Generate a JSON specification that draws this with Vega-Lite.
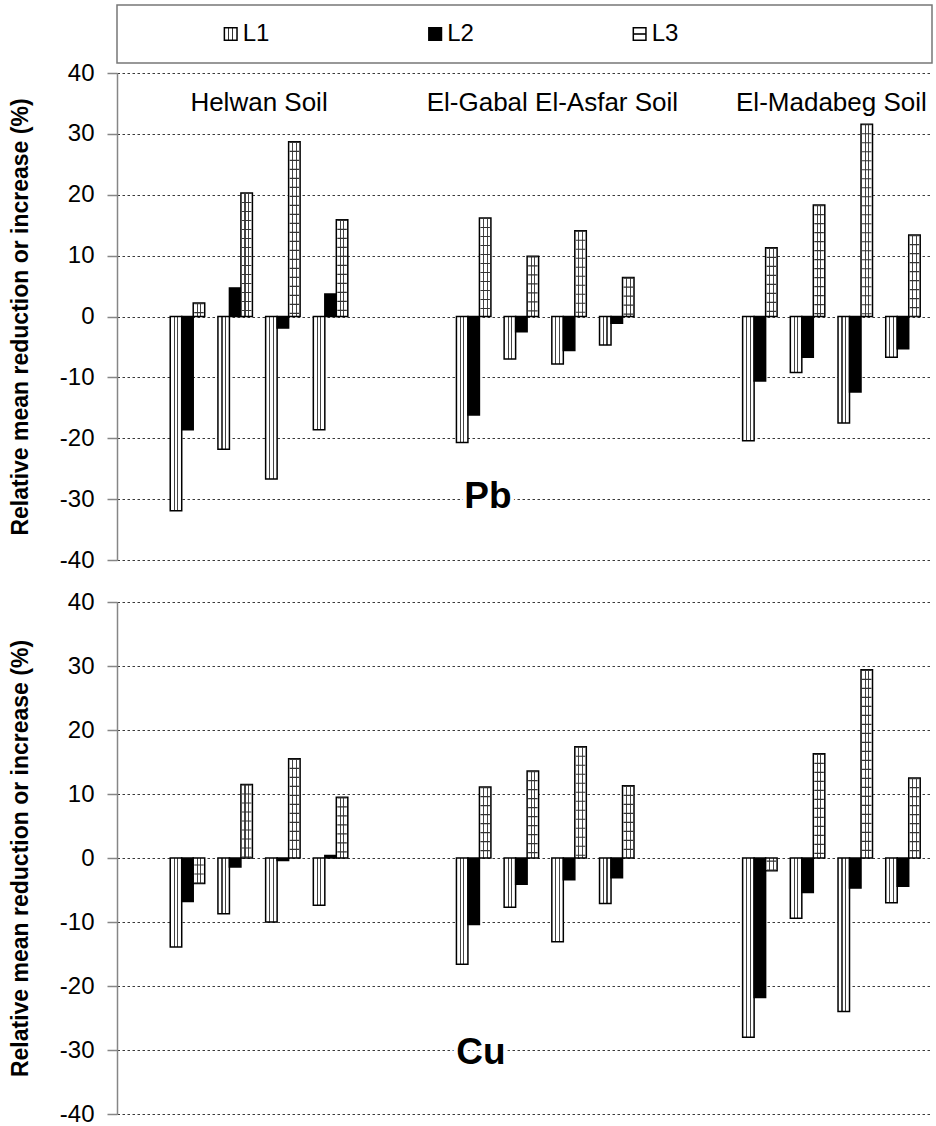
{
  "$schema": "https://vega.github.io/schema/vega-lite/v6.json",
  "padding": {"left": 9, "top": 4, "right": 0, "bottom": 4},
  "background": "white",
  "bounds": "flush",
  "spacing": 10,
  "resolve": {"scale": {"x": "independent", "y": "independent"}},
  "config": {
    "font": "Liberation Sans",
    "view": {"stroke": null},
    "axisY": {
      "gridColor": "#222", "gridDash": [2.5, 2.5], "gridWidth": 0.9, "gridOpacity": 1,
      "domainColor": "#868686", "domainWidth": 1.5,
      "tickColor": "#868686", "tickSize": 10, "tickWidth": 1.5,
      "labelFontSize": 24, "labelColor": "black", "labelPadding": 13, "labelFont": "Liberation Sans",
      "labelExpr": "toString(datum.value)",
      "titleFontSize": 23, "titleFontWeight": "bold", "titleColor": "black", "titlePadding": 27, "titleFont": "Liberation Sans"
    }
  },
  "datasets": {
    "bars": [
      {"panel": "Pb", "slot": "H1", "series": "L1", "value": -31.9},
      {"panel": "Pb", "slot": "H1", "series": "L2", "value": -18.6},
      {"panel": "Pb", "slot": "H1", "series": "L3", "value": 2.2},
      {"panel": "Pb", "slot": "H2", "series": "L1", "value": -21.8},
      {"panel": "Pb", "slot": "H2", "series": "L2", "value": 4.7},
      {"panel": "Pb", "slot": "H2", "series": "L3", "value": 20.3},
      {"panel": "Pb", "slot": "H3", "series": "L1", "value": -26.7},
      {"panel": "Pb", "slot": "H3", "series": "L2", "value": -1.9},
      {"panel": "Pb", "slot": "H3", "series": "L3", "value": 28.7},
      {"panel": "Pb", "slot": "H4", "series": "L1", "value": -18.6},
      {"panel": "Pb", "slot": "H4", "series": "L2", "value": 3.7},
      {"panel": "Pb", "slot": "H4", "series": "L3", "value": 15.9},
      {"panel": "Pb", "slot": "G1", "series": "L1", "value": -20.7},
      {"panel": "Pb", "slot": "G1", "series": "L2", "value": -16.2},
      {"panel": "Pb", "slot": "G1", "series": "L3", "value": 16.2},
      {"panel": "Pb", "slot": "G2", "series": "L1", "value": -7.0},
      {"panel": "Pb", "slot": "G2", "series": "L2", "value": -2.5},
      {"panel": "Pb", "slot": "G2", "series": "L3", "value": 9.9},
      {"panel": "Pb", "slot": "G3", "series": "L1", "value": -7.8},
      {"panel": "Pb", "slot": "G3", "series": "L2", "value": -5.6},
      {"panel": "Pb", "slot": "G3", "series": "L3", "value": 14.1},
      {"panel": "Pb", "slot": "G4", "series": "L1", "value": -4.7},
      {"panel": "Pb", "slot": "G4", "series": "L2", "value": -1.1},
      {"panel": "Pb", "slot": "G4", "series": "L3", "value": 6.4},
      {"panel": "Pb", "slot": "M1", "series": "L1", "value": -20.4},
      {"panel": "Pb", "slot": "M1", "series": "L2", "value": -10.6},
      {"panel": "Pb", "slot": "M1", "series": "L3", "value": 11.3},
      {"panel": "Pb", "slot": "M2", "series": "L1", "value": -9.2},
      {"panel": "Pb", "slot": "M2", "series": "L2", "value": -6.7},
      {"panel": "Pb", "slot": "M2", "series": "L3", "value": 18.3},
      {"panel": "Pb", "slot": "M3", "series": "L1", "value": -17.5},
      {"panel": "Pb", "slot": "M3", "series": "L2", "value": -12.4},
      {"panel": "Pb", "slot": "M3", "series": "L3", "value": 31.6},
      {"panel": "Pb", "slot": "M4", "series": "L1", "value": -6.7},
      {"panel": "Pb", "slot": "M4", "series": "L2", "value": -5.3},
      {"panel": "Pb", "slot": "M4", "series": "L3", "value": 13.4},
      {"panel": "Cu", "slot": "H1", "series": "L1", "value": -13.9},
      {"panel": "Cu", "slot": "H1", "series": "L2", "value": -6.8},
      {"panel": "Cu", "slot": "H1", "series": "L3", "value": -4.0},
      {"panel": "Cu", "slot": "H2", "series": "L1", "value": -8.7},
      {"panel": "Cu", "slot": "H2", "series": "L2", "value": -1.4},
      {"panel": "Cu", "slot": "H2", "series": "L3", "value": 11.5},
      {"panel": "Cu", "slot": "H3", "series": "L1", "value": -10.0},
      {"panel": "Cu", "slot": "H3", "series": "L2", "value": -0.4},
      {"panel": "Cu", "slot": "H3", "series": "L3", "value": 15.5},
      {"panel": "Cu", "slot": "H4", "series": "L1", "value": -7.4},
      {"panel": "Cu", "slot": "H4", "series": "L2", "value": 0.4},
      {"panel": "Cu", "slot": "H4", "series": "L3", "value": 9.5},
      {"panel": "Cu", "slot": "G1", "series": "L1", "value": -16.6},
      {"panel": "Cu", "slot": "G1", "series": "L2", "value": -10.4},
      {"panel": "Cu", "slot": "G1", "series": "L3", "value": 11.1},
      {"panel": "Cu", "slot": "G2", "series": "L1", "value": -7.7},
      {"panel": "Cu", "slot": "G2", "series": "L2", "value": -4.1},
      {"panel": "Cu", "slot": "G2", "series": "L3", "value": 13.6},
      {"panel": "Cu", "slot": "G3", "series": "L1", "value": -13.1},
      {"panel": "Cu", "slot": "G3", "series": "L2", "value": -3.4},
      {"panel": "Cu", "slot": "G3", "series": "L3", "value": 17.4},
      {"panel": "Cu", "slot": "G4", "series": "L1", "value": -7.1},
      {"panel": "Cu", "slot": "G4", "series": "L2", "value": -3.1},
      {"panel": "Cu", "slot": "G4", "series": "L3", "value": 11.3},
      {"panel": "Cu", "slot": "M1", "series": "L1", "value": -28.0},
      {"panel": "Cu", "slot": "M1", "series": "L2", "value": -21.8},
      {"panel": "Cu", "slot": "M1", "series": "L3", "value": -2.0},
      {"panel": "Cu", "slot": "M2", "series": "L1", "value": -9.4},
      {"panel": "Cu", "slot": "M2", "series": "L2", "value": -5.4},
      {"panel": "Cu", "slot": "M2", "series": "L3", "value": 16.3},
      {"panel": "Cu", "slot": "M3", "series": "L1", "value": -24.0},
      {"panel": "Cu", "slot": "M3", "series": "L2", "value": -4.7},
      {"panel": "Cu", "slot": "M3", "series": "L3", "value": 29.4},
      {"panel": "Cu", "slot": "M4", "series": "L1", "value": -7.0},
      {"panel": "Cu", "slot": "M4", "series": "L2", "value": -4.4},
      {"panel": "Cu", "slot": "M4", "series": "L3", "value": 12.5}
    ]
  },
  "vconcat": [
    {
      "width": 815,
      "height": 58,
      "view": {"stroke": "#777777", "strokeWidth": 1.5},
      "data": {"values": [{"series": "L1"}, {"series": "L2"}, {"series": "L3"}]},
      "layer": [
        {
          "mark": {"type": "point", "shape": "square", "size": 160, "filled": true, "stroke": "black", "strokeWidth": 1.5, "opacity": 1},
          "encoding": {
            "x": {"field": "series", "type": "nominal", "scale": {"type": "point", "domain": ["L1", "L2", "L3"], "padding": 0.993, "align": 0.28}, "axis": null},
            "fill": {
              "condition": [
                {"test": "datum.series === 'L1'", "value": {"gradient": "linear", "x1": 0, "y1": 0, "x2": 1, "y2": 0, "stops": [{"offset": 0, "color": "white"}, {"offset": 0.3, "color": "white"}, {"offset": 0.3, "color": "#333"}, {"offset": 0.4, "color": "#333"}, {"offset": 0.4, "color": "white"}, {"offset": 0.6, "color": "white"}, {"offset": 0.6, "color": "#333"}, {"offset": 0.7, "color": "#333"}, {"offset": 0.7, "color": "white"}, {"offset": 1, "color": "white"}]}},
                {"test": "datum.series === 'L2'", "value": "black"}
              ],
              "value": {"gradient": "linear", "x1": 0, "y1": 0, "x2": 0, "y2": 1, "stops": [{"offset": 0, "color": "white"}, {"offset": 0.45, "color": "white"}, {"offset": 0.45, "color": "#333"}, {"offset": 0.55, "color": "#333"}, {"offset": 0.55, "color": "white"}, {"offset": 1, "color": "white"}]}
            }
          }
        },
        {
          "mark": {"type": "text", "align": "left", "baseline": "middle", "dx": 12, "fontSize": 24, "font": "Liberation Sans", "color": "black"},
          "encoding": {
            "x": {"field": "series", "type": "nominal", "scale": {"type": "point", "domain": ["L1", "L2", "L3"], "padding": 0.993, "align": 0.28}, "axis": null},
            "text": {"field": "series"}
          }
        }
      ]
    },
    {
      "bounds": "flush",
      "spacing": 42,
      "resolve": {"scale": {"x": "independent", "y": "independent"}},
      "vconcat": [
        {
          "width": 815,
          "height": 487,
          "layer": [
            {
              "data": {"name": "bars"},
              "transform": [{"filter": "datum.panel === 'Pb'"}],
              "mark": {"type": "bar", "stroke": "black", "strokeWidth": 1.5},
              "encoding": {
                "x": {"field": "slot", "type": "nominal", "scale": {"domain": ["H1","H2","H3","H4","s1","s2","G1","G2","G3","G4","s3","s4","M1","M2","M3","M4"], "paddingInner": 0, "paddingOuter": 0.543, "align": 0.9}, "axis": null},
                "xOffset": {"field": "series", "type": "nominal", "scale": {"domain": ["L1", "L2", "L3"], "paddingInner": 0, "paddingOuter": 0.575}},
                "y": {"field": "value", "type": "quantitative", "scale": {"domain": [-40, 40], "nice": false, "zero": false}, "axis": {"values": [-40,-30,-20,-10,0,10,20,30,40], "title": "Relative mean reduction or increase (%)"}},
                "fill": {
                  "condition": [
                    {"test": "datum.series === 'L1'", "value": {"gradient": "linear", "x1": 0, "y1": 0, "x2": 1, "y2": 0, "stops": [{"offset": 0, "color": "white"}, {"offset": 0.3, "color": "white"}, {"offset": 0.3, "color": "#444"}, {"offset": 0.4, "color": "#444"}, {"offset": 0.4, "color": "white"}, {"offset": 0.6, "color": "white"}, {"offset": 0.6, "color": "#444"}, {"offset": 0.7, "color": "#444"}, {"offset": 0.7, "color": "white"}, {"offset": 1, "color": "white"}]}},
                    {"test": "datum.series === 'L2'", "value": "black"}
                  ],
                  "value": {"gradient": "linear", "x1": 0, "y1": 0, "x2": 1, "y2": 0, "stops": [{"offset": 0, "color": "white"}, {"offset": 0.31, "color": "white"}, {"offset": 0.31, "color": "#444"}, {"offset": 0.4, "color": "#444"}, {"offset": 0.4, "color": "white"}, {"offset": 0.62, "color": "white"}, {"offset": 0.62, "color": "#444"}, {"offset": 0.71, "color": "#444"}, {"offset": 0.71, "color": "white"}, {"offset": 1, "color": "white"}]}
                }
              }
            },
            {
              "data": {"name": "bars"},
              "transform": [{"filter": "datum.panel === 'Pb' && datum.series === 'L3'"}],
              "mark": {"type": "rule", "strokeDash": [1.2, 7.8], "strokeWidth": 9.5, "color": "#333", "strokeCap": "butt"},
              "encoding": {
                "x": {"field": "slot", "type": "nominal"},
                "xOffset": {"field": "series", "type": "nominal"},
                "y": {"field": "value", "type": "quantitative"},
                "y2": {"datum": 0}
              }
            },
            {
              "data": {"values": [{}]},
              "mark": {"type": "text", "fontSize": 26, "font": "Liberation Sans", "color": "black", "baseline": "middle", "align": "center", "text": "Helwan Soil"},
              "encoding": {"x": {"datum": "H2", "bandPosition": 1}, "y": {"datum": 35}}
            },
            {
              "data": {"values": [{}]},
              "mark": {"type": "text", "fontSize": 26, "font": "Liberation Sans", "color": "black", "baseline": "middle", "align": "center", "text": "El-Gabal El-Asfar Soil"},
              "encoding": {"x": {"datum": "G3", "bandPosition": 0.15}, "y": {"datum": 35}}
            },
            {
              "data": {"values": [{}]},
              "mark": {"type": "text", "fontSize": 26, "font": "Liberation Sans", "color": "black", "baseline": "middle", "align": "center", "text": "El-Madabeg Soil"},
              "encoding": {"x": {"datum": "M2", "bandPosition": 1}, "y": {"datum": 35}}
            },
            {
              "data": {"values": [{}]},
              "mark": {"type": "text", "fontSize": 37, "fontWeight": "bold", "font": "Liberation Sans", "fill": "white", "stroke": "white", "strokeWidth": 8, "baseline": "middle", "align": "center", "text": "Pb"},
              "encoding": {"x": {"datum": "G1", "bandPosition": 0.8}, "y": {"datum": -29.7}}
            },
            {
              "data": {"values": [{}]},
              "mark": {"type": "text", "fontSize": 37, "fontWeight": "bold", "font": "Liberation Sans", "color": "black", "baseline": "middle", "align": "center", "text": "Pb"},
              "encoding": {"x": {"datum": "G1", "bandPosition": 0.8}, "y": {"datum": -29.7}}
            }
          ]
        },
        {
          "width": 815,
          "height": 512,
          "layer": [
            {
              "data": {"name": "bars"},
              "transform": [{"filter": "datum.panel === 'Cu'"}],
              "mark": {"type": "bar", "stroke": "black", "strokeWidth": 1.5},
              "encoding": {
                "x": {"field": "slot", "type": "nominal", "scale": {"domain": ["H1","H2","H3","H4","s1","s2","G1","G2","G3","G4","s3","s4","M1","M2","M3","M4"], "paddingInner": 0, "paddingOuter": 0.543, "align": 0.9}, "axis": null},
                "xOffset": {"field": "series", "type": "nominal", "scale": {"domain": ["L1", "L2", "L3"], "paddingInner": 0, "paddingOuter": 0.575}},
                "y": {"field": "value", "type": "quantitative", "scale": {"domain": [-40, 40], "nice": false, "zero": false}, "axis": {"values": [-40,-30,-20,-10,0,10,20,30,40], "title": "Relative mean reduction or increase (%)"}},
                "fill": {
                  "condition": [
                    {"test": "datum.series === 'L1'", "value": {"gradient": "linear", "x1": 0, "y1": 0, "x2": 1, "y2": 0, "stops": [{"offset": 0, "color": "white"}, {"offset": 0.3, "color": "white"}, {"offset": 0.3, "color": "#444"}, {"offset": 0.4, "color": "#444"}, {"offset": 0.4, "color": "white"}, {"offset": 0.6, "color": "white"}, {"offset": 0.6, "color": "#444"}, {"offset": 0.7, "color": "#444"}, {"offset": 0.7, "color": "white"}, {"offset": 1, "color": "white"}]}},
                    {"test": "datum.series === 'L2'", "value": "black"}
                  ],
                  "value": {"gradient": "linear", "x1": 0, "y1": 0, "x2": 1, "y2": 0, "stops": [{"offset": 0, "color": "white"}, {"offset": 0.31, "color": "white"}, {"offset": 0.31, "color": "#444"}, {"offset": 0.4, "color": "#444"}, {"offset": 0.4, "color": "white"}, {"offset": 0.62, "color": "white"}, {"offset": 0.62, "color": "#444"}, {"offset": 0.71, "color": "#444"}, {"offset": 0.71, "color": "white"}, {"offset": 1, "color": "white"}]}
                }
              }
            },
            {
              "data": {"name": "bars"},
              "transform": [{"filter": "datum.panel === 'Cu' && datum.series === 'L3'"}],
              "mark": {"type": "rule", "strokeDash": [1.2, 7.8], "strokeWidth": 9.5, "color": "#333", "strokeCap": "butt"},
              "encoding": {
                "x": {"field": "slot", "type": "nominal"},
                "xOffset": {"field": "series", "type": "nominal"},
                "y": {"field": "value", "type": "quantitative"},
                "y2": {"datum": 0}
              }
            },
            {
              "data": {"values": [{}]},
              "mark": {"type": "text", "fontSize": 37, "fontWeight": "bold", "font": "Liberation Sans", "fill": "white", "stroke": "white", "strokeWidth": 8, "baseline": "middle", "align": "center", "text": "Cu"},
              "encoding": {"x": {"datum": "G1", "bandPosition": 0.65}, "y": {"datum": -30.4}}
            },
            {
              "data": {"values": [{}]},
              "mark": {"type": "text", "fontSize": 37, "fontWeight": "bold", "font": "Liberation Sans", "color": "black", "baseline": "middle", "align": "center", "text": "Cu"},
              "encoding": {"x": {"datum": "G1", "bandPosition": 0.65}, "y": {"datum": -30.4}}
            }
          ]
        }
      ]
    }
  ]
}
